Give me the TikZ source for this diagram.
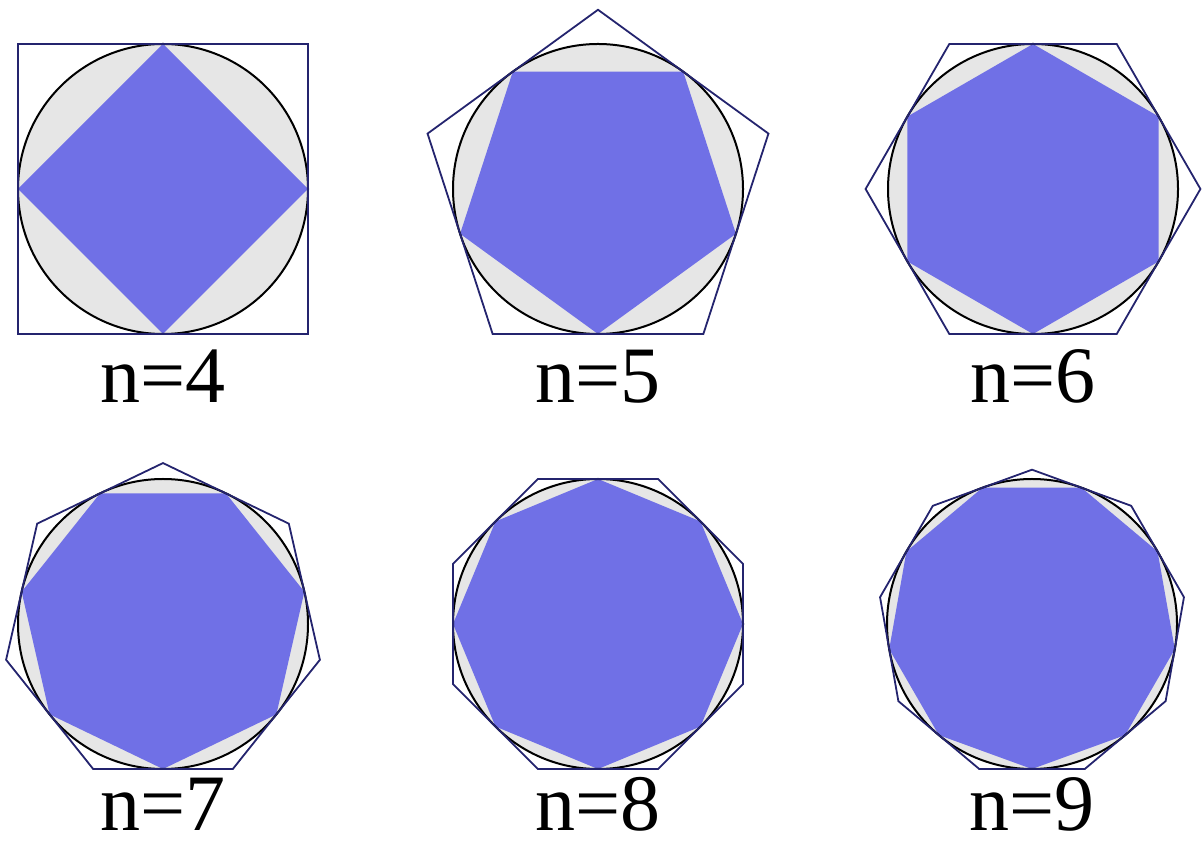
\documentclass[tikz,border=0pt]{standalone}
\usepackage{fontspec}
\setmainfont{Liberation Serif}
\definecolor{polyblue}{HTML}{7070E6}
\definecolor{discgray}{HTML}{E6E6E6}
\definecolor{edgenavy}{HTML}{24246E}

\begin{document}
\begin{tikzpicture}[x=1pt, y=1pt,
  disc/.style={fill=discgray},
  rim/.style={draw=black, line width=2pt},
  innerpoly/.style={fill=polyblue},
  outerpoly/.style={draw=edgenavy, line width=1.8pt, line join=miter},
  tag/.style={font=\fontsize{80}{90}\selectfont, inner sep=0pt, anchor=base}]
\useasboundingbox (0,0) rectangle (1204,843);
\def\rad{145}

% one figure per n: circle, inscribed and circumscribed polygon
\foreach \n/\cx/\cy/\off/\ly in {4/163/654/45/440, 5/598/654/90/440, 6/1033/654/0/440,
                                 7/163/219/90/13, 8/598/219/22.5/13, 9/1032/219/90/13} {
  \pgfmathtruncatemacro\last{\n-1}
  \pgfmathsetmacro\big{\rad/cos(180/\n)}
  \begin{scope}[shift={(\cx,\cy)}]
    \fill[disc] (0,0) circle (\rad);
    \fill[innerpoly] ({\off+180/\n}:\rad)
      \foreach \k in {1,...,\last} { -- ({\off+180/\n+\k*360/\n}:\rad) } -- cycle;
    \draw[rim] (0,0) circle (\rad);
    \draw[outerpoly] (\off:\big)
      \foreach \k in {1,...,\last} { -- ({\off+\k*360/\n}:\big) } -- cycle;
  \end{scope}
  \node[tag] (lbl\n) at (\cx,\ly) {n=\n};
}
\end{tikzpicture}
\end{document}
